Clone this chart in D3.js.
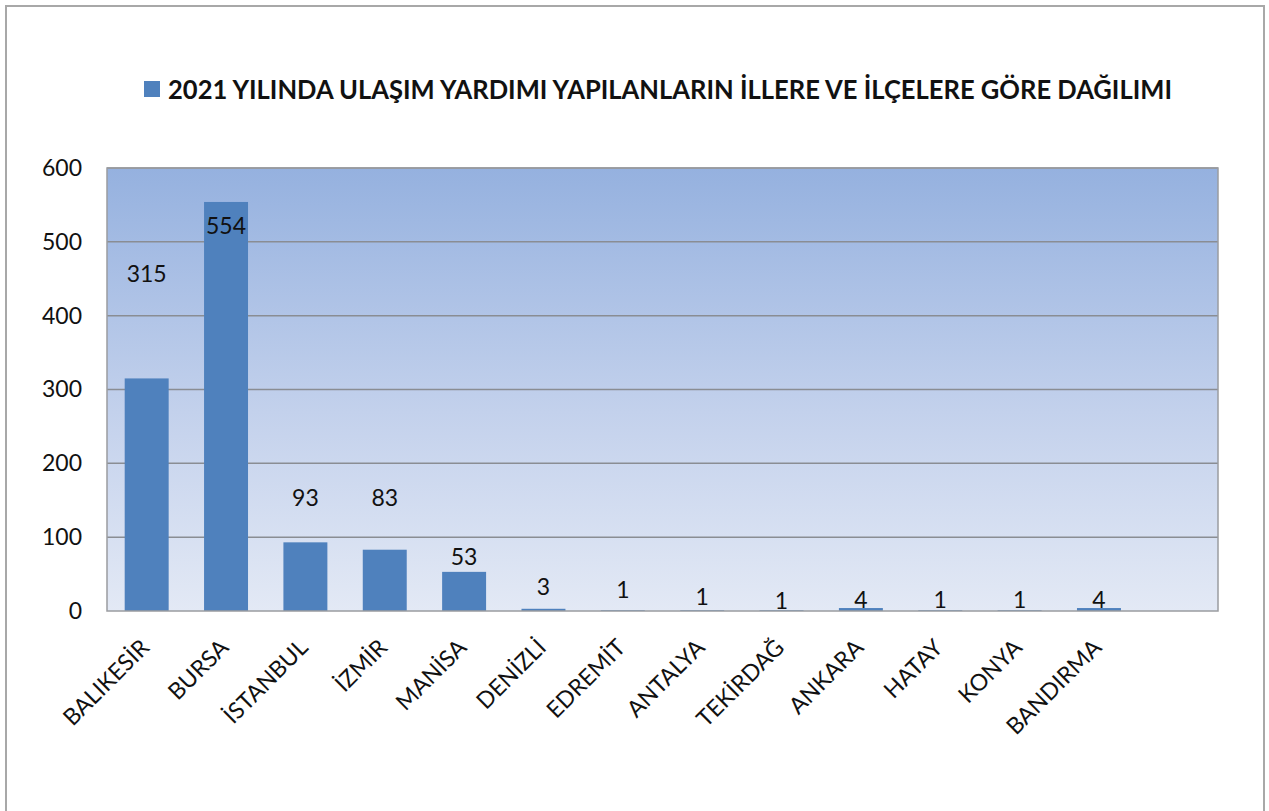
<!DOCTYPE html>
<html>
<head>
<meta charset="utf-8">
<script src="https://cdn.jsdelivr.net/npm/d3@7"></script>
<style>
  html, body { margin: 0; padding: 0; background: #ffffff; }
  svg { display: block; }
  text { font-family: Lato, "Open Sans", "DejaVu Sans", sans-serif; fill: #111; }
</style>
</head>
<body>
<svg id="chart" width="1269" height="811"></svg>
<script>
// Provinces and districts
const categories = ["BALIKESİR", "BURSA", "İSTANBUL", "İZMİR", "MANİSA", "DENİZLİ",
  "EDREMİT", "ANTALYA", "TEKİRDAĞ", "ANKARA", "HATAY", "KONYA", "BANDIRMA"];

// Number of people given transport aid in 2021
const values = [315, 554, 93, 83, 53, 3, 1, 1, 1, 4, 1, 1, 4];

// Axis level (in persons) at which each value label is centred
const labelLevel = [456, 522, 153, 153, 73, 33, 29, 19.5, 14, 15, 15, 15, 15];

const yTicks = [0, 100, 200, 300, 400, 500, 600];

const seriesName = "2021 YILINDA ULAŞIM YARDIMI YAPILANLARIN İLLERE VE İLÇELERE GÖRE DAĞILIMI";

const svg = d3.select("#chart");
const plot = { left: 107, right: 1218, top: 168, bottom: 611 };

// The category axis keeps one empty slot after the last place
const x = d3.scaleBand()
  .domain([...categories, "__empty__"])
  .range([plot.left, plot.right])
  .paddingInner(0.446)
  .paddingOuter(0.223);

const y = d3.scaleLinear().domain([0, 600]).range([plot.bottom, plot.top]);

// Chart frame
svg.append("rect")
  .attr("x", 6).attr("y", 6)
  .attr("width", 1258).attr("height", 830)
  .attr("fill", "#fff")
  .attr("stroke", "#a8a8a8").attr("stroke-width", 2);

// Plot background gradient
const defs = svg.append("defs");
const grad = defs.append("linearGradient")
  .attr("id", "plotBg").attr("x1", 0).attr("y1", 0).attr("x2", 0).attr("y2", 1);
grad.append("stop").attr("offset", "0%").attr("stop-color", "#95b1df");
grad.append("stop").attr("offset", "55%").attr("stop-color", "#c3d1ec");
grad.append("stop").attr("offset", "100%").attr("stop-color", "#e3e9f5");

svg.append("rect")
  .attr("x", plot.left).attr("y", plot.top)
  .attr("width", plot.right - plot.left).attr("height", plot.bottom - plot.top)
  .attr("fill", "url(#plotBg)");

// Horizontal gridlines
svg.append("g")
  .selectAll("line")
  .data(yTicks.filter(d => d > 0))
  .join("line")
  .attr("x1", plot.left).attr("x2", plot.right)
  .attr("y1", d => y(d)).attr("y2", d => y(d))
  .attr("stroke", "#8a8d93").attr("stroke-width", 1.5);

// Bars
svg.append("g")
  .selectAll("rect")
  .data(values)
  .join("rect")
  .attr("x", (d, i) => x(categories[i]))
  .attr("width", x.bandwidth())
  .attr("y", d => y(d))
  .attr("height", d => y(0) - y(d))
  .attr("fill", "#4f81bd");

// Plot border
svg.append("rect")
  .attr("x", plot.left).attr("y", plot.top)
  .attr("width", plot.right - plot.left).attr("height", plot.bottom - plot.top)
  .attr("fill", "none")
  .attr("stroke", "#9a9ca0").attr("stroke-width", 1.5);

// Value axis
const yAxis = d3.axisLeft(y).tickValues(yTicks).tickSize(0).tickPadding(25);
const yg = svg.append("g").attr("transform", `translate(${plot.left},0)`).call(yAxis);
yg.select(".domain").remove();
yg.selectAll("text")
  .attr("font-size", 23)
  .attr("fill", "#111")
  .style("font-family", "Lato, 'Open Sans', sans-serif");

// Category axis, labels turned 45°
const xAxis = d3.axisBottom(x).tickValues(categories).tickSize(0).tickPadding(0);
const xg = svg.append("g").attr("transform", `translate(0,${plot.bottom})`).call(xAxis);
xg.select(".domain").remove();
xg.selectAll("text")
  .attr("font-size", 23)
  .attr("fill", "#111")
  .attr("text-anchor", "end")
  .attr("y", 0)
  .attr("dy", 0)
  .attr("transform", "translate(4,38) rotate(-45)")
  .style("font-family", "Lato, 'Open Sans', sans-serif");

// Value labels
svg.append("g")
  .selectAll("text")
  .data(values)
  .join("text")
  .attr("x", (d, i) => x(categories[i]) + x.bandwidth() / 2)
  .attr("y", (d, i) => y(labelLevel[i]))
  .attr("dy", "0.35em")
  .attr("text-anchor", "middle")
  .attr("font-size", 23)
  .text(d => d);

// Legend entry
const legend = svg.append("g");
legend.append("rect")
  .attr("x", 144).attr("y", 81).attr("width", 16).attr("height", 16)
  .attr("fill", "#4f81bd");
legend.append("text")
  .attr("x", 168).attr("y", 99)
  .attr("font-size", 27)
  .attr("font-weight", "bold")
  .attr("textLength", 1004)
  .attr("lengthAdjust", "spacingAndGlyphs")
  .text(seriesName);
</script>
</body>
</html>
